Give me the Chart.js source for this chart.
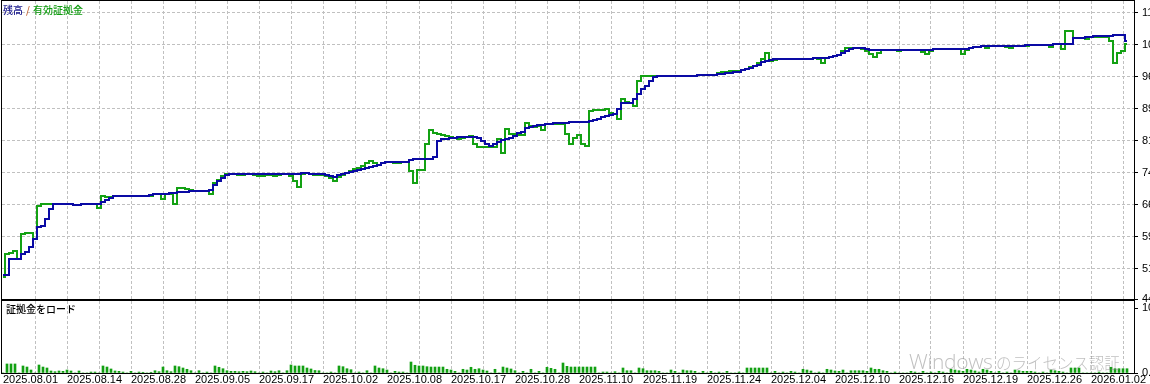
<!DOCTYPE html>
<html>
<head>
<meta charset="utf-8">
<script src="https://cdn.jsdelivr.net/npm/chart.js"></script>
<style>
  html, body { margin: 0; padding: 0; background: #fff; overflow: hidden; width: 1150px; height: 384px; }
  #topBox { position: absolute; left: 0; top: 0; width: 1150px; height: 302px; }
  #bottomBox { position: absolute; left: 0; top: 300px; width: 1150px; height: 84px; }
  .watermark { position: absolute; left: 909px; top: 347px; white-space: nowrap; pointer-events: none;
               color: rgba(130,130,130,0.5); }
  .watermark .en { font-family: 'Open Sans', sans-serif; font-weight: 300; font-size: 21px; letter-spacing: -0.3px; }
  .watermark .ja { font-family: 'Noto Sans CJK JP', sans-serif; font-weight: 300; font-size: 15.5px; }
</style>
</head>
<body>
<div id="topBox"><canvas id="balanceChart" width="1150" height="302"></canvas></div>
<div id="bottomBox"><canvas id="loadChart" width="1150" height="84"></canvas></div>
<div class="watermark"><span class="en">Windows</span><span class="ja"> のライセンス認証</span></div>
<script>
// date labels under every other grid line
var dateLabels = ['2025.08.01','2025.08.14','2025.08.28','2025.09.05','2025.09.17','2025.10.02',
  '2025.10.08','2025.10.17','2025.10.28','2025.11.10','2025.11.19','2025.11.24',
  '2025.12.04','2025.12.10','2025.12.16','2025.12.19','2025.12.26','2026.01.02'];

// right axis labels (they are cut by the window edge)
var balanceTicks = [4470, 5170, 5916, 6662, 7408, 8154, 8900, 9646, 10392, 11138];
var loadTicks = [0, 100];

// 残高
var balance = [
  5030,5030,5403,5403,5403,5520,5566,5683,5869,6149,
  6172,6336,6569,6685,6685,6685,6685,6685,6662,6662,
  6685,6685,6685,6685,6685,6732,6778,6825,6872,6872,
  6872,6872,6872,6872,6872,6872,6872,6895,6918,6918,
  6918,6918,6941,6941,6965,6965,6965,6988,6988,6988,
  6988,6988,7011,7128,7221,7291,7361,7384,7384,7384,
  7384,7384,7384,7384,7384,7384,7384,7384,7384,7384,
  7384,7384,7384,7384,7384,7408,7408,7384,7384,7384,
  7384,7361,7338,7314,7361,7384,7408,7431,7454,7478,
  7501,7524,7547,7571,7594,7641,7664,7664,7664,7664,
  7664,7664,7711,7734,7734,7734,7734,7734,7781,8154,
  8200,8200,8223,8223,8247,8247,8247,8247,8247,8223,
  8154,8084,8037,8084,8130,8177,8200,8223,8270,8340,
  8363,8457,8480,8503,8527,8527,8550,8550,8573,8573,
  8573,8573,8597,8597,8597,8597,8597,8620,8643,8666,
  8713,8736,8760,8783,8900,9039,9039,9039,9133,9249,
  9366,9436,9552,9645,9669,9669,9669,9669,9669,9669,
  9669,9669,9669,9669,9692,9692,9692,9692,9692,9715,
  9715,9739,9739,9762,9762,9809,9832,9855,9902,9925,
  9995,10018,10042,10065,10065,10065,10065,10065,10065,10065,
  10065,10065,10065,10088,10088,10088,10088,10112,10135,10158,
  10205,10252,10298,10321,10321,10321,10298,10275,10275,10275,
  10275,10275,10275,10275,10275,10275,10275,10275,10275,10275,
  10275,10275,10275,10298,10298,10298,10298,10298,10298,10298,
  10298,10298,10321,10345,10345,10368,10368,10368,10368,10368,
  10368,10368,10368,10368,10368,10368,10391,10391,10391,10391,
  10391,10391,10391,10415,10415,10415,10415,10415,10555,10555,
  10555,10578,10578,10601,10601,10601,10601,10601,10624,10624,
  10624,10485
];

// 有効証拠金
var equity = [
  4984,5520,5543,5589,5403,5986,6009,6009,5869,6638,
  6685,6685,6685,6685,6685,6685,6685,6685,6662,6662,
  6685,6685,6685,6685,6592,6872,6848,6848,6872,6872,
  6872,6872,6872,6872,6872,6872,6872,6872,6918,6918,
  6802,6918,6918,6685,7058,7058,7035,7011,6988,6988,
  6988,6988,6918,7174,7244,7338,7384,7384,7384,7361,
  7361,7384,7384,7361,7338,7338,7361,7361,7338,7361,
  7384,7384,7338,7221,7081,7384,7408,7384,7361,7361,
  7361,7338,7291,7221,7314,7361,7408,7454,7501,7524,
  7571,7641,7687,7641,7594,7641,7664,7664,7641,7641,
  7664,7664,7454,7174,7478,7478,8084,8410,8340,8317,
  8293,8270,8247,8223,8200,8223,8247,8270,8084,8014,
  8014,8014,8014,8014,8200,7874,8433,8317,8317,8293,
  8293,8573,8503,8480,8503,8410,8550,8550,8550,8550,
  8550,8317,8084,8223,8293,8084,8037,8853,8876,8876,
  8876,8900,8806,8783,8666,9133,9063,9039,8969,9552,
  9669,9669,9669,9669,9669,9669,9669,9669,9669,9669,
  9669,9669,9669,9669,9692,9692,9692,9692,9692,9739,
  9762,9762,9785,9785,9785,9809,9832,9878,9902,9972,
  10065,10205,10018,10042,10065,10065,10065,10065,10065,10065,
  10065,10065,10065,10088,10065,9972,10088,10112,10135,10158,
  10252,10321,10321,10321,10321,10298,10252,10182,10112,10205,
  10275,10275,10275,10275,10252,10275,10275,10275,10275,10275,
  10228,10182,10252,10298,10298,10298,10298,10298,10298,10298,
  10182,10275,10321,10345,10345,10368,10321,10368,10368,10368,
  10368,10345,10321,10368,10368,10368,10368,10391,10391,10391,
  10391,10391,10345,10415,10415,10298,10718,10718,10555,10555,
  10555,10531,10578,10578,10578,10578,10578,10485,9972,10205,
  10252,10415
];

// 証拠金をロード (%)
var depositLoad = [
  0,13.9,13.9,13.9,0,10.8,9.2,4.6,0,12.3,
  9.2,7.7,3.1,2.0,3.1,2.6,4.6,3.1,0,3.1,
  0,0,1.5,1.5,0,10.8,9.2,6.2,3.1,2.6,
  1.5,0,2.6,0,1.5,1.1,0,1.1,3.5,2.0,
  9.2,3.5,2.0,10.8,9.7,7.7,5.7,3.5,0,3.5,
  0,1.5,0,10.8,8.8,6.6,3.5,2.6,2.6,2.0,
  2.6,2.0,3.1,2.0,0,1.5,0,3.1,2.0,3.5,
  0,3.5,12.3,10.8,10.8,10.8,7.7,6.2,3.9,3.5,
  0,0,1.5,0,10.8,9.7,6.6,5.1,0,1.5,
  0,3.5,0,10.8,7.7,6.6,4.6,0,2.6,1.5,
  1.5,0,16.9,11.9,10.8,10.8,9.7,9.2,9.2,9.2,
  9.2,5.7,4.6,2.6,0,5.7,4.6,8.8,5.7,6.6,
  4.6,3.1,0,5.7,0,9.2,7.7,6.2,3.5,0,
  2.6,0,5.7,0,2.6,0,8.8,7.2,5.7,0,
  15.4,10.3,9.2,9.2,9.2,9.2,9.2,9.2,9.2,0,
  1.5,1.5,0,2.0,0,7.7,3.5,3.5,0,7.7,
  6.6,3.5,3.5,3.5,2.6,0,0,4.6,2.6,0,
  4.6,3.5,3.5,2.6,0,2.6,0,2.6,0,1.5,
  0,2.6,0,0,1.5,0,7.7,7.7,7.7,7.7,
  7.7,7.7,0,2.6,0,1.5,0,2.6,1.5,0,
  5.7,4.6,3.1,0,1.5,0,5.7,4.6,3.1,2.6,
  4.6,0,3.5,3.5,3.5,3.5,2.6,7.7,5.7,5.7,
  3.5,2.6,0,1.5,0,0,0,2.6,1.5,0,
  2.6,0,1.5,0,2.6,1.5,0,5.7,4.6,3.5,
  2.6,5.7,4.6,3.1,1.5,5.7,4.6,2.6,0,2.6,
  0,1.5,0,4.6,3.5,2.6,2.6,2.6,1.5,0,
  1.5,0,4.6,3.5,2.6,1.5,0,7.7,7.7,7.7,
  0,0,0,0,1.5,0,0,8.8,6.6,6.6,
  6.6,6.6
];

var FONT = "'Liberation Sans Narrow', 'Liberation Sans', Arial, sans-serif";
var CJK = "'Noto Sans CJK JP', sans-serif";
var GRID = '#c0c0c0';
var BLUE = '#0a0aa4';
var GREEN = '#13a113';

// one grid line every 8 points, one date every 16
var gridTicks = [];
for (var t = 0; t <= 280; t += 8) gridTicks.push(t);

function toXY(arr) {
  return arr.map(function (v, i) { return { x: i, y: v }; });
}

// black frame + caption text, like the terminal panels
var panelPlugin = {
  id: 'panel',
  afterDraw: function (chart, args, opts) {
    var ctx = chart.ctx, a = chart.chartArea;
    ctx.save();
    ctx.strokeStyle = '#000';
    ctx.lineWidth = 1;
    ctx.strokeRect(Math.round(a.left) - 0.5, Math.round(a.top) - 0.5,
      Math.round(a.right - a.left) + 1, Math.round(a.bottom - a.top) + 1);
    ctx.font = '500 10px ' + CJK;
    ctx.textBaseline = 'middle';
    var x = a.left + opts.dx;
    (opts.caption || []).forEach(function (p) {
      ctx.fillStyle = p.color;
      ctx.fillText(p.text, x, a.top + opts.dy);
      x += ctx.measureText(p.text).width + (p.gap || 0);
    });
    ctx.restore();
  }
};

function fixWidth(w) {
  return function (scale) {
    scale.width = w;
    scale.paddingTop = 0; scale.paddingBottom = 0;
  };
}
function fixHeight(h) {
  return function (scale) {
    scale.height = h;
    scale.paddingLeft = 0; scale.paddingRight = 0;
  };
}
function setTicks(values) {
  return function (scale) {
    scale.ticks = values.map(function (v) { return { value: v }; });
  };
}
var vGridColor = function (c) { return c.tick && c.tick.value === 0 ? 'rgba(0,0,0,0)' : GRID; };

new Chart(document.getElementById('balanceChart'), {
  type: 'line',
  data: {
    datasets: [
      { label: '残高', data: toXY(balance), borderColor: BLUE, borderWidth: 2, pointRadius: 0, stepped: 'middle' },
      { label: '有効証拠金', data: toXY(equity), borderColor: GREEN, borderWidth: 2, pointRadius: 0, stepped: 'middle' }
    ]
  },
  options: {
    responsive: false,
    animation: false,
    devicePixelRatio: 1,
    layout: { padding: { left: 2, top: 1, right: 0, bottom: 3 } },
    plugins: {
      legend: { display: false },
      tooltip: { enabled: false },
      panel: {
        dx: 1, dy: 9,
        caption: [
          { text: '残高', color: '#1a1a8c', gap: 3 },
          { text: '/', color: '#c06030', gap: 3 },
          { text: '有効証拠金', color: '#0e9a0e' }
        ]
      }
    },
    scales: {
      x: {
        type: 'linear', min: -0.25, max: 282.75,
        afterBuildTicks: setTicks(gridTicks),
        afterFit: fixHeight(0),
        ticks: { display: false },
        grid: { color: vGridColor, drawTicks: false },
        border: { display: false, dash: [3, 2] }
      },
      y: {
        position: 'right', min: 4470, max: 11416,
        afterBuildTicks: setTicks(balanceTicks),
        afterFit: fixWidth(16),
        ticks: { color: '#000', font: { family: FONT, size: 11 }, padding: 4,
                 callback: function (v) { return String(v); } },
        grid: {
          color: function (c) { return c.tick && c.tick.value === 4470 ? 'rgba(0,0,0,0)' : GRID; },
          tickLength: 4, tickColor: '#000', tickBorderDash: []
        },
        border: { display: false, dash: [3, 2] }
      }
    }
  },
  plugins: [panelPlugin]
});

new Chart(document.getElementById('loadChart'), {
  type: 'bar',
  data: {
    datasets: [
      { label: '証拠金をロード', data: toXY(depositLoad), backgroundColor: '#12a012',
        borderWidth: 0, barThickness: 2 }
    ]
  },
  options: {
    responsive: false,
    animation: false,
    devicePixelRatio: 1,
    layout: { padding: { left: 2, top: 1, right: 0, bottom: 0 } },
    plugins: {
      legend: { display: false },
      tooltip: { enabled: false },
      panel: {
        dx: 4, dy: 8,
        caption: [{ text: '証拠金をロード', color: '#000' }]
      }
    },
    scales: {
      x: {
        type: 'linear', min: -0.25, max: 282.75, offset: false,
        afterBuildTicks: setTicks(gridTicks),
        afterFit: fixHeight(11),
        ticks: {
          color: '#000', font: { family: FONT, size: 11 }, padding: 0,
          align: 'start', autoSkip: false, maxRotation: 0, minRotation: 0,
          callback: function (v) { return v % 16 === 0 && dateLabels[v / 16] ? dateLabels[v / 16] : ''; }
        },
        grid: { color: vGridColor, drawTicks: false, offset: false },
        border: { display: false, dash: [3, 2] }
      },
      y: {
        position: 'right', min: 0, max: 110.8,
        afterBuildTicks: setTicks(loadTicks),
        afterFit: fixWidth(16),
        ticks: { color: '#000', font: { family: FONT, size: 11 }, padding: 4,
                 callback: function (v) { return v === 0 ? '0.00' : '100'; } },
        grid: { drawOnChartArea: false, tickLength: 4, tickColor: '#000', tickBorderDash: [] },
        border: { display: false }
      }
    }
  },
  plugins: [panelPlugin]
});
</script>
</body>
</html>
